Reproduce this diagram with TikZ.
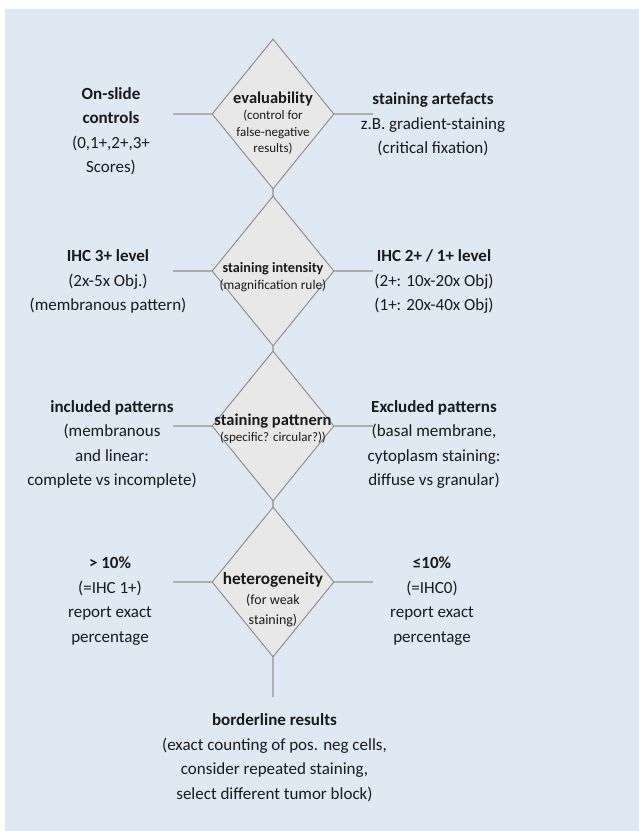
\documentclass[tikz,border=0pt]{standalone}
\usepackage{fontspec}
\setmainfont{Carlito}
\usetikzlibrary{shapes.geometric}
\definecolor{panelblue}{HTML}{DFE9F4}
\definecolor{diagray}{HTML}{E8E8E8}
\definecolor{edgegray}{HTML}{8A8A8A}
\definecolor{linkgray}{HTML}{AEAEAE}
\definecolor{inkgray}{HTML}{1A1A1A}

\begin{document}
\begin{tikzpicture}[x=1pt, y=-1pt,
  check/.style={diamond, draw=edgegray, fill=diagray, line width=0.9pt,
    minimum width=122pt, minimum height=150pt, inner sep=0pt},
  link/.style={draw=linkgray, line width=2pt},
  side/.style={align=center, inner sep=0pt, text=inkgray,
    font=\fontsize{17}{24.5}\selectfont},
  inner/.style={align=center, inner sep=0pt, text=inkgray,
    font=\fontsize{13}{16.5}\selectfont}]
  \useasboundingbox (0,0) rectangle (639,831);
  \fill[panelblue] (5,9) rectangle (639,831);
  % decision diamonds
  \node[check] (eval) at (273,114) {};
  \node[check] (intens) at (273,271) {};
  \node[check] (pattern) at (273,426) {};
  \node[check] (hetero) at (273,582) {};
  % free ends of the connectors
  \coordinate (eval-l) at (173,114);  \coordinate (eval-r) at (373,114);
  \coordinate (intens-l) at (173,271);  \coordinate (intens-r) at (373,271);
  \coordinate (pattern-l) at (173,426);  \coordinate (pattern-r) at (373,426);
  \coordinate (hetero-l) at (173,582);  \coordinate (hetero-r) at (373,582);
  \coordinate (hetero-b) at (273,697);
  \draw[link] (eval.west) -- (eval-l);  \draw[link] (eval.east) -- (eval-r);
  \draw[link] (intens.west) -- (intens-l);  \draw[link] (intens.east) -- (intens-r);
  \draw[link] (pattern.west) -- (pattern-l);  \draw[link] (pattern.east) -- (pattern-r);
  \draw[link] (hetero.west) -- (hetero-l);  \draw[link] (hetero.east) -- (hetero-r);
  \draw[link] (eval.south) -- (intens.north);
  \draw[link] (intens.south) -- (pattern.north);
  \draw[link] (pattern.south) -- (hetero.north);
  \draw[link] (hetero.south) -- (hetero-b);
  % texts inside the diamonds
  \node[inner] (eval-t) at (273,123) {{\fontsize{16.5}{16}\selectfont\bfseries evaluability}\\(control for\\false-negative\\results)};
  \node[inner] (intens-t) at (273,277) {{\fontsize{14.2}{20}\selectfont\bfseries staining intensity}\\{\fontsize{13.4}{16}\selectfont(magnification rule)}};
  \node[inner] (pattern-t) at (273,429) {{\fontsize{16.5}{22}\selectfont\bfseries staining pattnern}\\(specific? circular?))};
  \node[inner, font=\fontsize{14}{20}\selectfont] (hetero-t) at (273,600) {{\fontsize{17.2}{20}\selectfont\bfseries heterogeneity}\\(for weak\\staining)};
  % texts beside the diamonds
  \node[side] (onslide) at (111,131) {\textbf{On-slide}\\\textbf{controls}\\(0,1+,2+,3+\\Scores)};
  \node[side] (artefact) at (433,124.5) {\textbf{staining artefacts}\\z.B. gradient-staining\\(critical fixation)};
  \node[side] (ihc3) at (108,281.5) {\textbf{IHC 3+ level}\\(2x-5x Obj.)\\(membranous pattern)};
  \node[side] (ihc21) at (434,281.5) {\textbf{IHC 2+ / 1+ level}\\(2+: 10x-20x Obj)\\(1+: 20x-40x Obj)};
  \node[side] (included) at (112,444.5) {\textbf{included patterns}\\(membranous\\and linear:\\complete vs incomplete)};
  \node[side] (excluded) at (434,444.5) {\textbf{Excluded patterns}\\(basal membrane,\\cytoplasm staining:\\diffuse vs granular)};
  \node[side] (above) at (110,601) {\textbf{> 10\%}\\(=IHC 1+)\\report exact\\percentage};
  \node[side] (below) at (432,601) {\textbf{≤10\%}\\(=IHC0)\\report exact\\percentage};
  \node[side] (border) at (274.5,757.5) {\textbf{borderline results}\\(exact counting of pos. neg cells,\\consider repeated staining,\\select different tumor block)};
\end{tikzpicture}
\end{document}
